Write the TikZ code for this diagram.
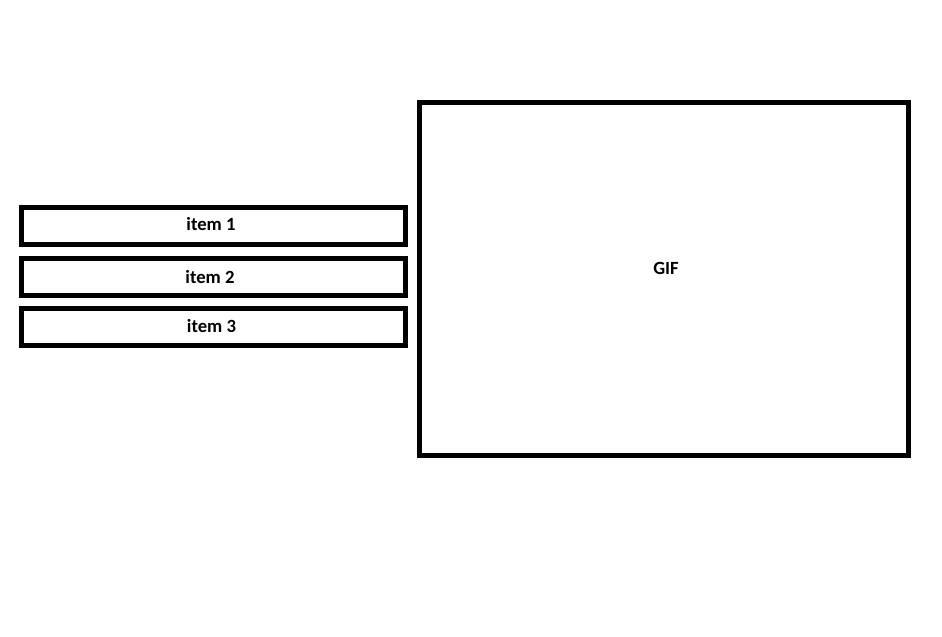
\documentclass[tikz,border=0pt]{standalone}
\usepackage{fontspec}
\setmainfont{Carlito}
\begin{document}
\begin{tikzpicture}[x=0.75pt,y=-0.75pt,
  lbl/.style={font=\bfseries\fontsize{14pt}{16pt}\selectfont,inner sep=0pt},
  box/.style={draw=black,line width=3.75pt,inner sep=0pt,lbl},
  itembox/.style={box,minimum width=384*0.75pt,minimum height=37*0.75pt}]
\useasboundingbox[fill=white] (0,0) rectangle (942,636);
\node[itembox] (i1) at (213.5,226) {};
\node[lbl] (t1) at (211,224.5) {item 1};
\node[itembox] (i2) at (213.5,276.5) {};
\node[lbl] (t2) at (210,277) {item 2};
\node[itembox] (i3) at (213,326.5) {};
\node[lbl] (t3) at (211.5,326.5) {item 3};
\node[box,minimum width=489*0.75pt,minimum height=352.5*0.75pt] (gif) at (664,278.75) {};
\node[lbl] (tg) at (666,268) {GIF};
\end{tikzpicture}
\end{document}
